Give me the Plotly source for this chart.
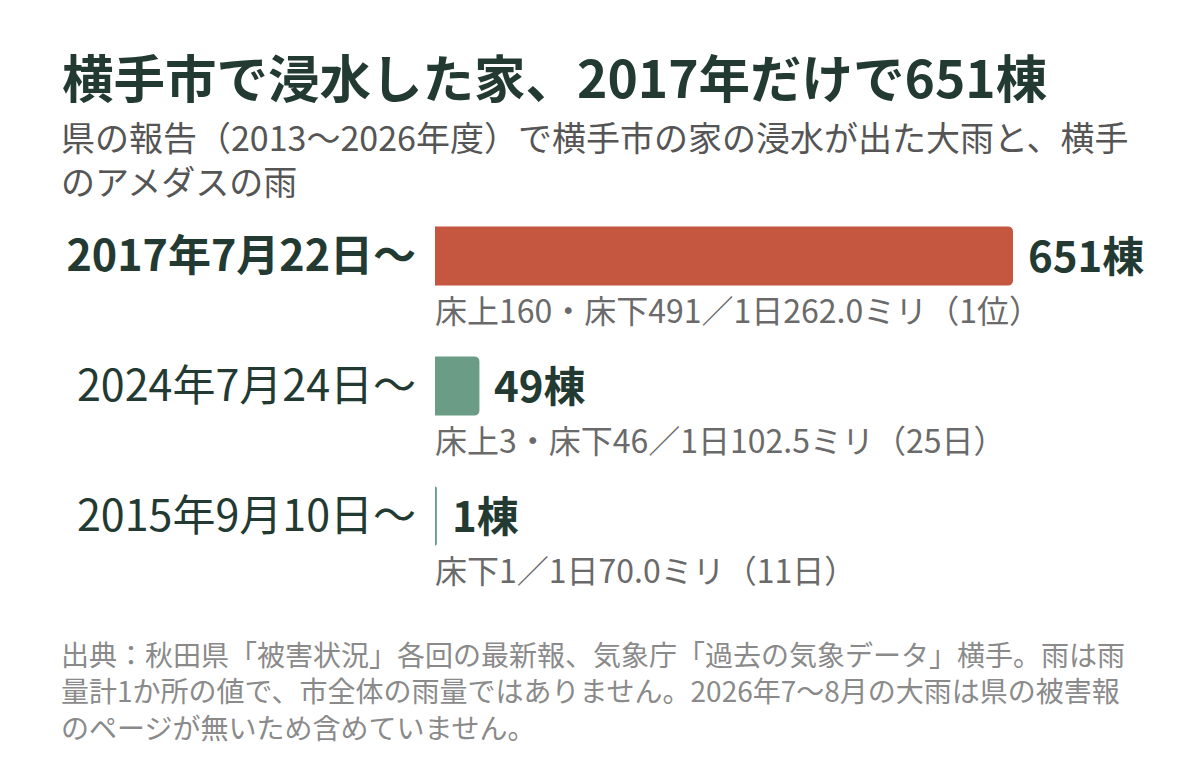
import plotly.graph_objects as go

# data
dates = ['2017年7月22日〜', '2024年7月24日〜', '2015年9月10日〜']
houses = [651, 49, 1]
details = [
    '床上160・床下491／1日262.0ミリ（1位）',
    '床上3・床下46／1日102.5ミリ（25日）',
    '床下1／1日70.0ミリ（11日）',
]
bar_colors = ['#c5563f', '#6b9c86', '#6b9c86']

FONT = 'Noto Sans CJK JP'
DARK = '#223a32'

# page is drawn 8px right/down of the figure origin
OFF = 8
# plot area: bars start at x=435, rows 130 px apart centred at 256/386/516
L, R = 435 - OFF, 40
T = 191 - OFF
B = 776 - (581 - OFF)
PW = 1200 - L - R
PH = 776 - T - B
x_max = 651 * PW / 577  # 651 houses ~ 577 px


def px_x(px):
    return (px - OFF - L) / PW


def px_y(py):
    return (776 - B - (py - OFF)) / PH


tick_text = ['<b>' + dates[0] + '</b>'] + dates[1:]

fig = go.Figure(go.Bar(
    x=houses,
    y=dates,
    orientation='h',
    marker=dict(color=bar_colors, line=dict(color=bar_colors, width=2)),
    hoverinfo='skip',
    showlegend=False,
))

# value labels right of each bar
for d, v in zip(dates, houses):
    fig.add_annotation(
        x=v, y=d, text='<b>%d棟</b>' % v, showarrow=False,
        xanchor='left', yanchor='middle', xshift=14, yshift=3,
        font=dict(family=FONT, size=42, color=DARK),
    )

# breakdown under each bar
for d, t in zip(dates, details):
    fig.add_annotation(
        x=0, y=d, text=t, showarrow=False,
        xanchor='left', yanchor='middle', yshift=-53, xshift=-2,
        font=dict(family=FONT, size=32, color='#6a6a6a'),
    )

# subtitle
fig.add_annotation(
    xref='paper', yref='paper', x=px_x(59), y=px_y(110),
    xanchor='left', yanchor='top', align='left', showarrow=False,
    text='県の報告（2013〜2026年度）で横手市の家の浸水が出た大雨と、横手<br>のアメダスの雨',
    font=dict(family=FONT, size=34, color='#555555'),
)

# source note
fig.add_annotation(
    xref='paper', yref='paper', x=px_x(59), y=px_y(632),
    xanchor='left', yanchor='top', align='left', showarrow=False,
    text='出典：秋田県「被害状況」各回の最新報、気象庁「過去の気象データ」横手。雨は雨<br>'
         '量計1か所の値で、市全体の雨量ではありません。2026年7〜8月の大雨は県の被害報<br>'
         'のページが無いため含めていません。',
    font=dict(family=FONT, size=28, color='#8a8a8a'),
)

fig.update_layout(
    title=dict(
        text='横手市で浸水した家、2017年だけで651棟',
        xref='container', yref='container',
        x=(62 - OFF) / 1200, y=1 - (80 - OFF) / 776, xanchor='left', yanchor='middle',
        font=dict(family=FONT, size=51.5, color=DARK, weight='bold'),
    ),
    width=1200,
    height=776,
    margin=dict(l=L, r=R, t=T, b=B),
    paper_bgcolor='white',
    plot_bgcolor='white',
    bargap=0.56,
    barcornerradius=4,
    font=dict(family=FONT, color=DARK),
    xaxis=dict(range=[0, x_max], visible=False, fixedrange=True, automargin=False),
    yaxis=dict(
        range=[2.5, -0.5],
        automargin=False,
        tickmode='array',
        tickvals=dates,
        ticktext=tick_text,
        tickfont=dict(family=FONT, size=43, color=DARK),
        showgrid=False,
        showline=False,
        zeroline=False,
        ticks='',
        ticklabelstandoff=18,
        fixedrange=True,
    ),
)

fig.write_html("out.html")
